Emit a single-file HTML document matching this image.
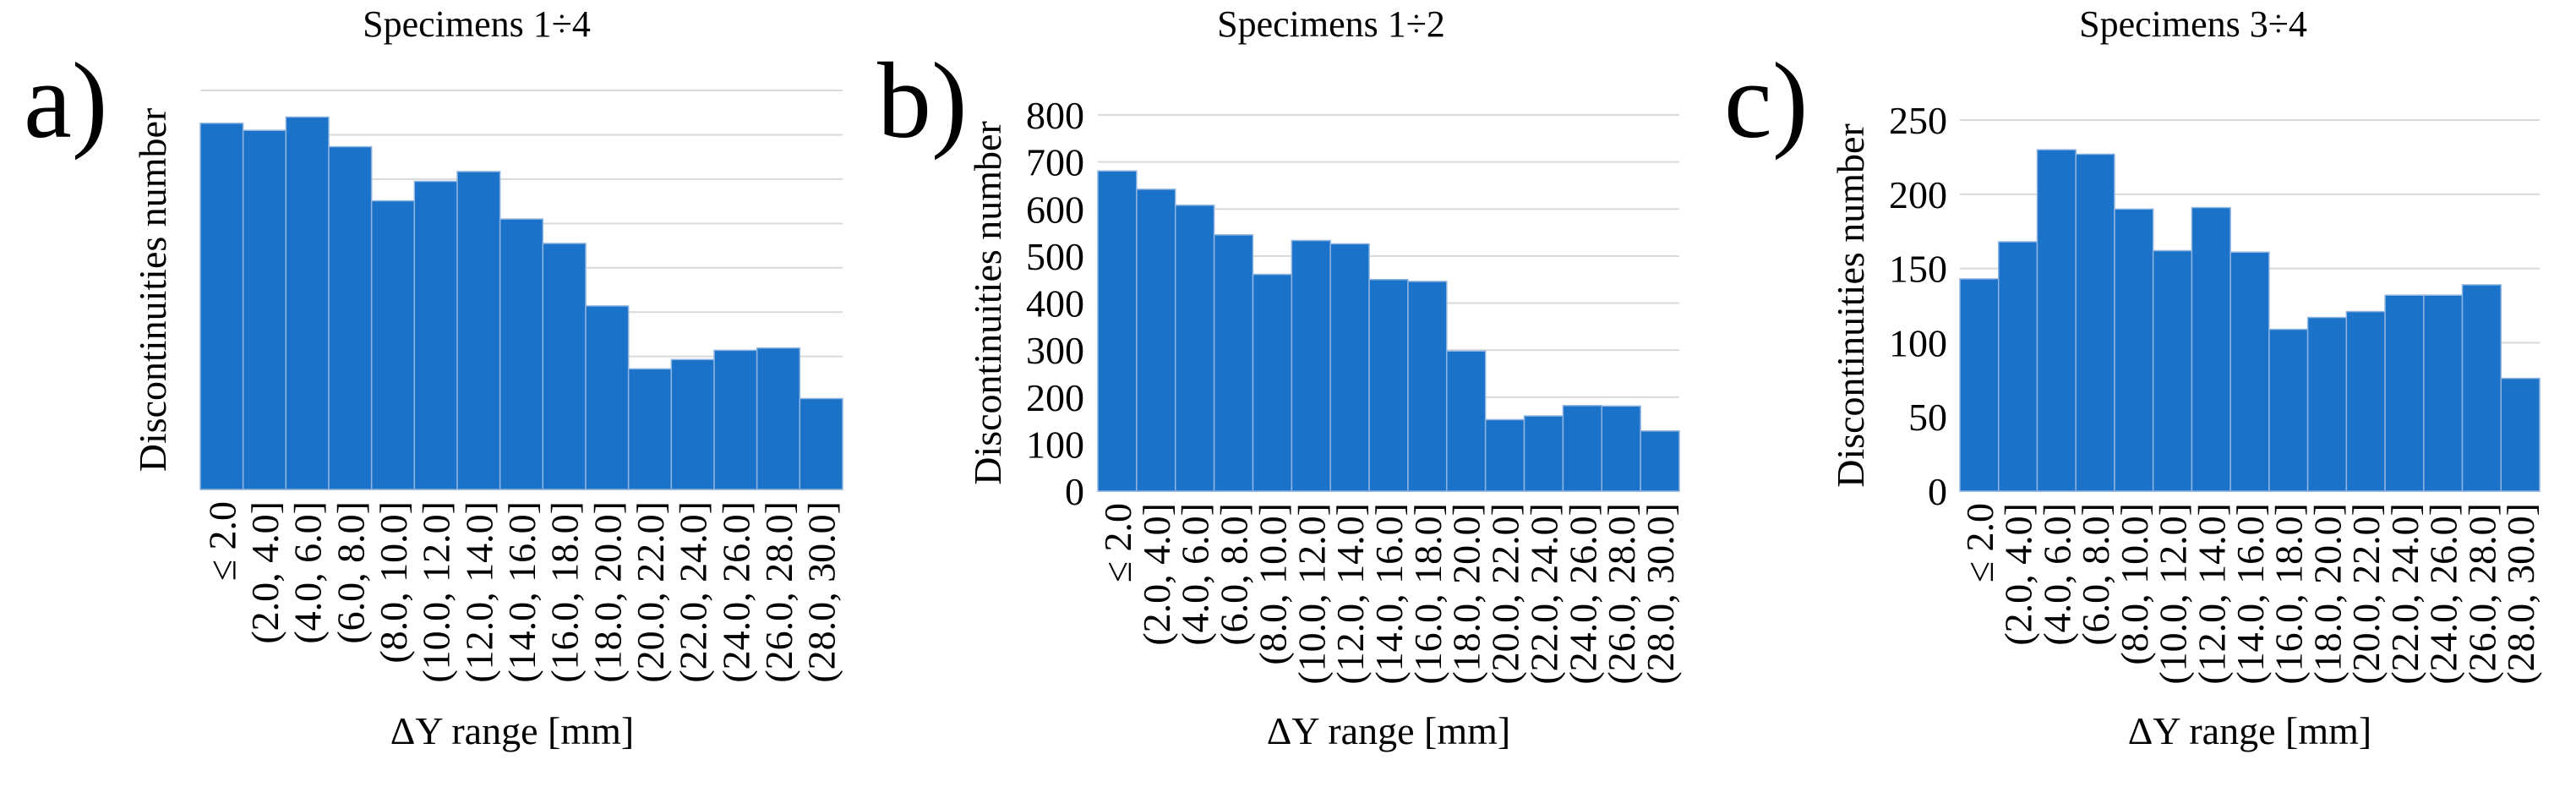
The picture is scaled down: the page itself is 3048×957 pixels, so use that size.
<!DOCTYPE html>
<html><head><meta charset="utf-8"><style>
html,body{margin:0;padding:0;background:#fff}
svg{display:block}
text{font-family:"Liberation Serif",serif;fill:#000}
</style></head><body>
<svg id="fig" width="3048" height="957" viewBox="0 0 3048 957" xmlns="http://www.w3.org/2000/svg"></svg>
<script>
const categories = ["\u2264 2.0","(2.0, 4.0]","(4.0, 6.0]","(6.0, 8.0]","(8.0, 10.0]","(10.0, 12.0]","(12.0, 14.0]","(14.0, 16.0]","(16.0, 18.0]","(18.0, 20.0]","(20.0, 22.0]","(22.0, 24.0]","(24.0, 26.0]","(26.0, 28.0]","(28.0, 30.0]"];
const valuesA = [826,810,840,773,651,695,717,610,555,414,272,293,314,319,205];
const valuesB = [681,642,608,545,461,533,526,450,446,298,152,160,182,181,128];
const valuesC = [143,168,230,227,190,162,191,161,109,117,121,132,132,139,76];
const ticksA = [0,100,200,300,400,500,600,700,800,900];
const ticksB = [0,100,200,300,400,500,600,700,800];
const ticksC = [0,50,100,150,200,250];
const titles = ["Specimens 1\u00f74","Specimens 1\u00f72","Specimens 3\u00f74"];
const letters = ["a)","b)","c)"];

const NS="http://www.w3.org/2000/svg";
const svg=document.getElementById('fig');
function mk(tag,attrs,parent){const e=document.createElementNS(NS,tag);for(const k in attrs)e.setAttribute(k,attrs[k]);(parent||svg).appendChild(e);return e;}

const panels=[
 {vals:valuesA,ticks:ticksA,showTicks:false,L:237,R:997,T:107,B:579,ytx:180,tickR:0,titleX:564,letterX:28,xtX:606,key:'a'},
 {vals:valuesB,ticks:ticksB,showTicks:true,L:1299,R:1987,T:136,B:581,ytx:1168,tickR:1283,titleX:1575,letterX:1038,xtX:1643,key:'b'},
 {vals:valuesC,ticks:ticksC,showTicks:true,L:2319,R:3005,T:142,B:581,ytx:2189,tickR:2304,titleX:2595,letterX:2040,xtX:2662,key:'c'}
];

panels.forEach((p,i)=>{
 const g=mk('g',{});
 
 
 const maxV=p.ticks[p.ticks.length-1];
 const y=v=>p.B-(v/maxV)*(p.B-p.T);
 const bw=(p.R-p.L)/p.vals.length;
 const x=k=>p.L+k*bw;
 p.ticks.forEach(t=>{
  const ln=mk('line',{x1:p.L,x2:p.R,y1:y(t),y2:y(t),stroke:'#d9d9d9','stroke-width':2},g);
  
  
  if(p.showTicks){
   const tx=mk('text',{x:p.tickR,y:y(t)+16,'text-anchor':'end','font-size':46},g);
   tx.textContent=t;
   
   
  }
 });
 p.vals.forEach((v,k)=>{
  const r=mk('rect',{x:x(k),y:y(v),width:bw,height:p.B-y(v),fill:'#1a73c9',stroke:'#8fb4e0','stroke-width':1.5},g);
  
  
  const cx=x(k)+bw/2+16;
  const lt=mk('text',{x:0,y:0,'text-anchor':'end','font-size':46,transform:`translate(${cx},${p.B+14}) rotate(-90)`},g);
  lt.textContent=categories[k];
  
  
 });
 const ti=mk('text',{x:p.titleX,y:43,'text-anchor':'middle','font-size':44},g);
 ti.textContent=titles[i];
 
 
 const le=mk('text',{x:p.letterX,y:162,'font-size':128},g);
 le.textContent=letters[i];
 
 
 const yt=mk('text',{x:0,y:0,'text-anchor':'middle','font-size':46,transform:`translate(${p.ytx+16},${(p.T+p.B)/2}) rotate(-90)`},g);
 yt.textContent='Discontinuities number';
 
 
 const xt=mk('text',{x:p.xtX,y:880,'text-anchor':'middle','font-size':46},g);
 xt.textContent='\u0394Y range [mm]';
 
 
});
</script>
</body></html>
